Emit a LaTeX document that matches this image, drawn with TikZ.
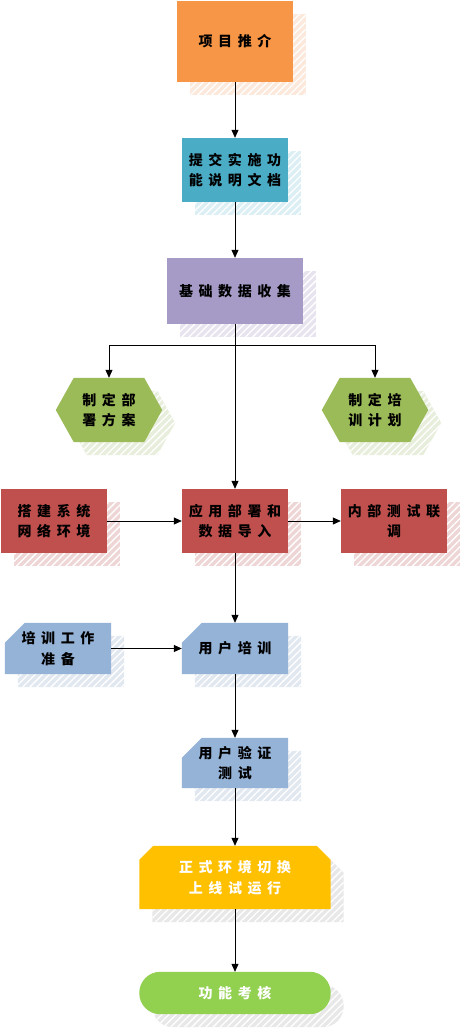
\documentclass[tikz,border=0pt]{standalone}
\usepackage{fontspec}
\newfontfamily\cjk{Noto Sans CJK SC}[LetterSpace=40]
\usetikzlibrary{arrows.meta,calc,backgrounds,patterns.meta}
\definecolor{corange}{HTML}{F79646}
\definecolor{cblue}{HTML}{4BACC6}
\definecolor{cpurple}{HTML}{A69BC7}
\definecolor{cgreen}{HTML}{9BBB59}
\definecolor{cred}{HTML}{C0504D}
\definecolor{clblue}{HTML}{95B3D7}
\definecolor{cyellow}{HTML}{FFC000}
\definecolor{clime}{HTML}{92D050}
\definecolor{sorange}{HTML}{FCE9DC}
\definecolor{sblue}{HTML}{DCEFF4}
\definecolor{spurple}{HTML}{E8E4EF}
\definecolor{sgreen}{HTML}{E8EEDC}
\definecolor{sred}{HTML}{EFD6D6}
\definecolor{slblue}{HTML}{E2E8F0}
\definecolor{sgrey}{HTML}{E8E8E8}
\newcommand\rectpath[3]{($(#1.north west)+(#2,#3)$) rectangle ($(#1.south east)+(#2,#3)$)}
\newcommand\cutpath[3]{($(#1.south west)+(#2,#3)$) -- ($(#1.north west)+(#2,#3+20)$) -- ($(#1.north west)+(#2+20,#3)$) -- ($(#1.north east)+(#2,#3)$) -- ($(#1.south east)+(#2,#3)$) -- cycle}
\newcommand\cuttwopath[3]{($(#1.south west)+(#2,#3)$) -- ($(#1.north west)+(#2,#3+14)$) -- ($(#1.north west)+(#2+14,#3)$) -- ($(#1.north east)+(#2-14,#3)$) -- ($(#1.north east)+(#2,#3+14)$) -- ($(#1.south east)+(#2,#3)$) -- cycle}
\newcommand\hexpath[3]{($(#1.west)+(#2,#3)$) -- ($(#1.north west)+(#2+18,#3)$) -- ($(#1.north east)+(#2-18,#3)$) -- ($(#1.east)+(#2,#3)$) -- ($(#1.south east)+(#2-18,#3)$) -- ($(#1.south west)+(#2+18,#3)$) -- cycle}
\begin{document}
\begin{tikzpicture}[x=1pt,y=-1pt,
  txt/.style={font=\cjk\bfseries\fontsize{14}{20.5}\selectfont, align=center, inner sep=0pt, text=black},
  wtxt/.style={txt, text=white},
  arr/.style={draw=black, line width=0.8pt, -{Triangle[length=8pt,width=7pt]}},
  hatch/.style={fill=#1, postaction={pattern={Lines[angle=45,distance=5pt,line width=1.3pt]}, pattern color=white}}]
\useasboundingbox (0,0) rectangle (462,1028);
% nodes
\node[txt, minimum width=115pt, minimum height=81pt] (n1) at (235,41.5) {项目推介};
\node[txt, minimum width=106pt, minimum height=64pt] (n2) at (235,170) {提交实施功\\能说明文档};
\node[txt, minimum width=136pt, minimum height=66pt] (n3) at (235,291) {基础数据收集};
\node[txt, minimum width=106pt, minimum height=64pt] (h1) at (109,410) {制定部\\署方案};
\node[txt, minimum width=106pt, minimum height=64pt] (h2) at (375,410) {制定培\\训计划};
\node[txt, minimum width=106pt, minimum height=64pt] (r1) at (54,521) {搭建系统\\网络环境};
\node[txt, minimum width=106pt, minimum height=64pt] (r2) at (235,521) {应用部署和\\数据导入};
\node[txt, minimum width=106pt, minimum height=64pt] (r3) at (394,521) {内部测试联\\调};
\node[txt, minimum width=106pt, minimum height=51pt] (b1) at (58,648.5) {培训工作\\准备};
\node[txt, minimum width=106pt, minimum height=51pt] (b2) at (235,648.5) {用户培训};
\node[txt, minimum width=106pt, minimum height=50pt] (b3) at (235,763) {用户验证\\测试};
\node[wtxt, minimum width=191pt, minimum height=63pt] (y1) at (235,877.5) {正式环境切换\\上线试运行};
\node[wtxt, minimum width=191pt, minimum height=42pt] (g1) at (235,993) {功能考核};
\coordinate (br) at (235,345);
% shapes
\begin{scope}[on background layer]
  \fill[white] (0,0) rectangle (462,1028);
  \fill[hatch=sorange] \rectpath{n1}{13}{13};
  \fill[corange] \rectpath{n1}{0}{0};
  \fill[hatch=sblue] \rectpath{n2}{13}{13};
  \fill[cblue] \rectpath{n2}{0}{0};
  \fill[hatch=spurple] \rectpath{n3}{13}{13};
  \fill[cpurple] \rectpath{n3}{0}{0};
  \fill[hatch=sgreen] \hexpath{h1}{13}{13};
  \fill[cgreen] \hexpath{h1}{0}{0};
  \fill[hatch=sgreen] \hexpath{h2}{13}{13};
  \fill[cgreen] \hexpath{h2}{0}{0};
  \fill[hatch=sred] \rectpath{r1}{13}{13};
  \fill[cred] \rectpath{r1}{0}{0};
  \fill[hatch=sred] \rectpath{r2}{13}{13};
  \fill[cred] \rectpath{r2}{0}{0};
  \fill[hatch=sred] \rectpath{r3}{13}{13};
  \fill[cred] \rectpath{r3}{0}{0};
  \fill[hatch=slblue] \cutpath{b1}{13}{13};
  \fill[clblue] \cutpath{b1}{0}{0};
  \fill[hatch=slblue] \cutpath{b2}{13}{13};
  \fill[clblue] \cutpath{b2}{0}{0};
  \fill[hatch=slblue] \cutpath{b3}{13}{13};
  \fill[clblue] \cutpath{b3}{0}{0};
  \fill[hatch=sgrey] \cuttwopath{y1}{13}{13};
  \fill[cyellow] \cuttwopath{y1}{0}{0};
  \fill[hatch=sgrey, rounded corners=20.9pt] \rectpath{g1}{13}{13};
  \fill[clime, rounded corners=20.9pt] \rectpath{g1}{0}{0};
\end{scope}
% connectors
\draw[arr] (n1.south) -- (n2.north);
\draw[arr] (n2.south) -- (n3.north);
\draw[arr] (n3.south) -- (r2.north);
\draw[arr] (br) -| (h1.north);
\draw[arr] (br) -| (h2.north);
\draw[arr] (r1.east) -- (r2.west);
\draw[arr] (r2.east) -- (r3.west);
\draw[arr] (r2.south) -- (b2.north);
\draw[arr] (b1.east) -- (b2.west);
\draw[arr] (b2.south) -- (b3.north);
\draw[arr] (b3.south) -- (y1.north);
\draw[arr] (y1.south) -- (g1.north);
\end{tikzpicture}
\end{document}
